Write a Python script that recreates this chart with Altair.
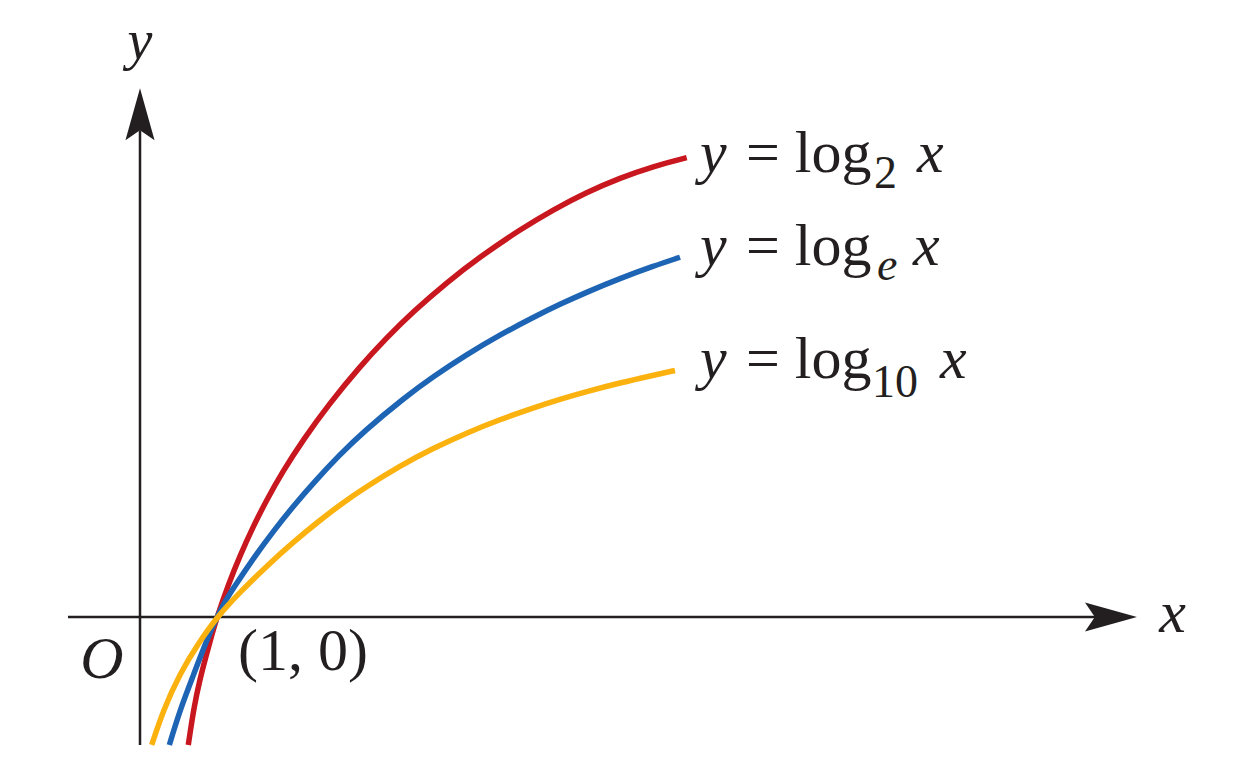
import altair as alt
import pandas as pd

# ---- curve values (x, y in graph units) ----
red_x = [0.627, 0.70, 0.78, 0.86, 0.93, 1.0, 1.15, 1.30, 1.47, 1.645, 1.85, 2.121,
         2.45, 2.85, 3.204, 3.549, 3.983, 4.416, 4.935, 5.368, 5.801, 6.234, 6.666, 7.1]
red_y = [-1.662, -1.17, -0.80, -0.50, -0.24, 0.0, 0.43, 0.80, 1.175, 1.52, 1.885, 2.305,
         2.759, 3.247, 3.629, 3.967, 4.345, 4.678, 5.031, 5.291, 5.516, 5.702, 5.853, 5.966]

blue_x = [0.381, 0.519, 0.692, 0.866, 1.0, 1.1, 1.212, 1.471, 1.731, 1.991, 2.251, 2.597, 2.9,
          3.442, 3.809, 4.243, 4.675, 5.108, 5.455, 5.801, 6.234, 6.666, 7.013]
blue_y = [-1.662, -1.208, -0.760, -0.300, 0.0, 0.195, 0.374, 0.76, 1.114, 1.439, 1.741, 2.111,
          2.405, 2.855, 3.123, 3.409, 3.664, 3.893, 4.063, 4.219, 4.397, 4.557, 4.672]

yellow_x = [0.152, 0.303, 0.519, 0.757, 1.0, 1.299, 1.645, 1.991, 2.338, 2.597, 2.9, 3.377,
            3.809, 4.243, 4.675, 5.108, 5.455, 5.801, 6.234, 6.666, 6.948]
yellow_y = [-1.662, -1.208, -0.731, -0.342, 0.0, 0.323, 0.662, 0.973, 1.258, 1.455, 1.667, 1.963,
            2.192, 2.392, 2.565, 2.717, 2.828, 2.928, 3.041, 3.140, 3.202]

series_colors = ["#C8171E", "#1E64B4", "#FBB20F"]

INK = "#231F20"
FONT = "Liberation Serif"

X_DOMAIN = [-1.7143, 14.3896]
Y_DOMAIN = [-1.7013, 7.9091]
xsc = alt.Scale(domain=X_DOMAIN, nice=False, zero=False)
ysc = alt.Scale(domain=Y_DOMAIN, nice=False, zero=False)


def curve_layer(xs, ys, color):
    df = pd.DataFrame({"x": xs, "y": ys, "i": list(range(len(xs)))})
    return alt.Chart(df).mark_line(
        strokeWidth=5.5, strokeCap="butt", interpolate="basis", color=color
    ).encode(
        x=alt.X("x:Q", scale=xsc, axis=None),
        y=alt.Y("y:Q", scale=ysc, axis=None),
        order="i:Q",
    )


# ---- axes ----
axes_df = pd.DataFrame({"x": [-0.935, 0.0], "x2": [12.47, 0.0],
                        "y": [0.0, -1.662], "y2": [0.0, 6.32]})
axes = alt.Chart(axes_df).mark_rule(strokeWidth=2.5, color=INK).encode(
    x=alt.X("x:Q", scale=xsc, axis=None), x2="x2:Q",
    y=alt.Y("y:Q", scale=ysc, axis=None), y2="y2:Q",
)

arrow_right = "M 1 0 L -1 -0.56 L -0.62 0 L -1 0.56 Z"
arrow_up = "M 0 -1 L 0.56 1 L 0 0.62 L -0.56 1 Z"
arrows_df = pd.DataFrame({"x": [12.61, 0.0], "y": [0.0, 6.53], "dir": ["right", "up"]})
arrows = alt.Chart(arrows_df).mark_point(
    filled=True, size=2704, color=INK, opacity=1, strokeWidth=0
).encode(
    x=alt.X("x:Q", scale=xsc, axis=None),
    y=alt.Y("y:Q", scale=ysc, axis=None),
    shape=alt.Shape("dir:N", scale=alt.Scale(domain=["right", "up"],
                                             range=[arrow_right, arrow_up]), legend=None),
)


def text_layer(rows, size, italic, align="left"):
    df = pd.DataFrame(rows, columns=["x", "y", "t"])
    kw = dict(font=FONT, fontSize=size, color=INK, align=align, baseline="alphabetic")
    if italic:
        kw["fontStyle"] = "italic"
    return alt.Chart(df).mark_text(**kw).encode(
        x=alt.X("x:Q", scale=xsc, axis=None),
        y=alt.Y("y:Q", scale=ysc, axis=None),
        text="t:N",
    )


# axis labels and point label
y_label = text_layer([[0.0, 7.247, "y"]], 56, True, align="center")
axis_italic = text_layer([[13.409, -0.195, "x"], [-0.494, -0.792, "O"]],
                         60, True, align="center")
point_label = text_layer([[1.273, -0.688, "(1, 0)"]], 60, False)

# equation labels: pieces
eq_italic = text_layer([
    [7.273, 5.779, "y"], [10.091, 5.779, "x"],
    [7.273, 4.571, "y"], [10.039, 4.571, "x"],
    [7.273, 3.100, "y"], [10.390, 3.100, "x"],
], 60, True)
eq_regular = text_layer([
    [7.870, 5.779, "= log"],
    [7.870, 4.571, "= log"],
    [7.870, 3.100, "= log"],
], 60, False)
eq_sub = text_layer([
    [9.532, 5.571, "2"],
    [9.506, 2.861, "10"],
], 46, False)
eq_sub_it = text_layer([
    [9.571, 4.377, "e"],
], 46, True)

chart = alt.layer(
    axes,
    curve_layer(red_x, red_y, series_colors[0]),
    curve_layer(blue_x, blue_y, series_colors[1]),
    curve_layer(yellow_x, yellow_y, series_colors[2]),
    arrows,
    y_label, axis_italic, point_label, eq_italic, eq_regular, eq_sub, eq_sub_it,
).properties(
    width=1240, height=740, padding=0,
    autosize=alt.AutoSizeParams(type="none"),
    background="white",
).configure_view(stroke=None)

chart.save("out.html", embed_options={"renderer": "svg", "actions": False})
